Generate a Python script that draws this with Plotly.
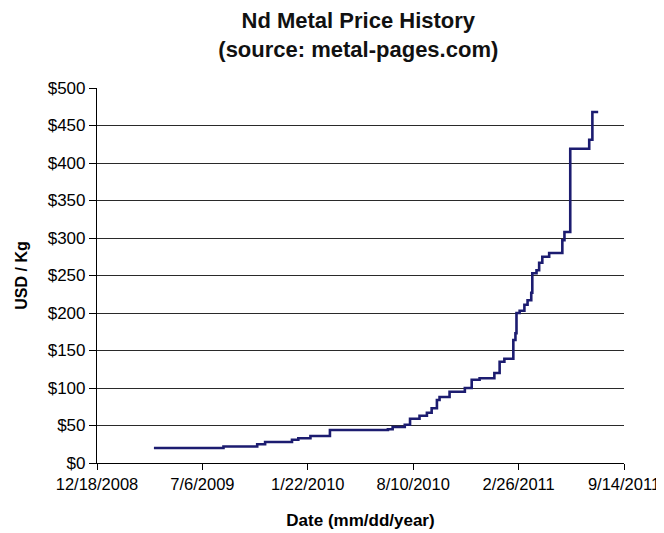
import plotly.graph_objects as go

dates = [
    "2009-04-05", "2009-08-15", "2009-10-18", "2009-11-02", "2009-12-23",
    "2010-01-04", "2010-01-27", "2010-03-05", "2010-06-23", "2010-07-02",
    "2010-07-25", "2010-08-04", "2010-08-22", "2010-09-05", "2010-09-14",
    "2010-09-24", "2010-09-29", "2010-10-18", "2010-11-16", "2010-11-29",
    "2010-12-14", "2011-01-11", "2011-01-21", "2011-01-30", "2011-02-16",
    "2011-02-20", "2011-02-22", "2011-02-28", "2011-03-09", "2011-03-15",
    "2011-03-22", "2011-03-24", "2011-04-01", "2011-04-06", "2011-04-12",
    "2011-04-25", "2011-05-20", "2011-05-24", "2011-06-04", "2011-07-10",
    "2011-07-16", "2011-07-27",
]
prices = [
    20, 22, 25, 28, 31,
    33, 36, 44, 45, 48,
    51, 59, 63, 67, 73,
    84, 88, 95, 100, 111,
    113, 120, 135, 139, 164,
    173, 200, 203, 211, 217,
    227, 253, 257, 267, 275,
    280, 297, 308, 419, 431,
    468, 468,
]

tick_dates = ["2008-12-18", "2009-07-06", "2010-01-22", "2010-08-10", "2011-02-26", "2011-09-14"]
tick_labels = ["12/18/2008", "7/6/2009", "1/22/2010", "8/10/2010", "2/26/2011", "9/14/2011"]
y_ticks = [0, 50, 100, 150, 200, 250, 300, 350, 400, 450, 500]
y_labels = ["&#36;" + str(v) for v in y_ticks]

FONT = "Liberation Sans, Arial, sans-serif"

fig = go.Figure()
fig.add_trace(go.Scatter(
    x=dates, y=prices, mode="lines", line_shape="hv",
    line=dict(color="#1c1c70", width=2.6), showlegend=False,
))

fig.update_layout(
    width=656, height=525,
    margin=dict(l=89, r=40, t=80, b=70),
    paper_bgcolor="white", plot_bgcolor="white",
    font=dict(family=FONT, color="black"),
    title=dict(
        text="<b>Nd Metal Price History</b><br><b>(source: metal-pages.com)</b>",
        x=0.534, xanchor="center", y=0.962, yanchor="top",
        font=dict(size=22, family=FONT, color="#111"),
    ),
    xaxis=dict(
        type="date", automargin=False,
        range=["2008-12-18", "2011-09-14"],
        tickvals=tick_dates, ticktext=tick_labels,
        tickfont=dict(size=16.5, family=FONT),
        ticks="outside", ticklen=6, tickcolor="black", tickwidth=1.2,
        showline=True, linecolor="black", linewidth=1.2,
        showgrid=False, zeroline=False,
        title=dict(text="<b>Date (mm/dd/year)</b>", font=dict(size=17, family=FONT), standoff=22),
    ),
    yaxis=dict(
        automargin=False,
        range=[0, 500], tickvals=y_ticks, ticktext=y_labels,
        tickfont=dict(size=17, family=FONT),
        ticks="outside", ticklen=7, tickcolor="black", tickwidth=1.2,
        showline=True, linecolor="black", linewidth=1.2,
        showgrid=True, gridcolor="#2a2a2a", gridwidth=1.4,
        zeroline=False,
        title=dict(text="<b>USD / Kg</b>", font=dict(size=16, family=FONT), standoff=16),
    ),
)

fig.write_html("out.html")
